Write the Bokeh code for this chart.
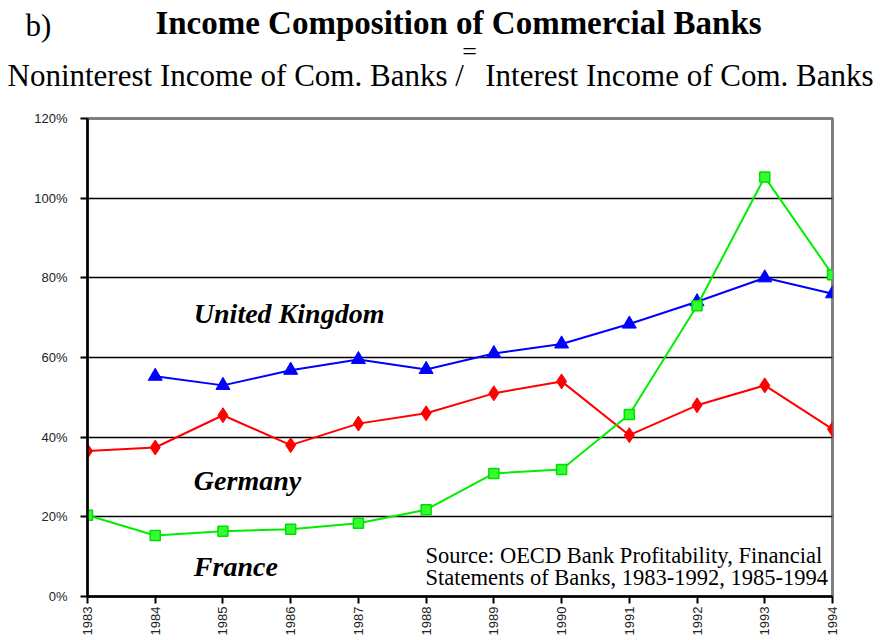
from bokeh.plotting import figure
from bokeh.models import Label, FixedTicker, Range1d
from bokeh.embed import file_html
from bokeh.resources import INLINE

years = [1983, 1984, 1985, 1986, 1987, 1988, 1989, 1990, 1991, 1992, 1993, 1994]
uk_years = [1984, 1985, 1986, 1987, 1988, 1989, 1990, 1991, 1992, 1993, 1994]
uk = [55.3, 53.0, 56.8, 59.5, 57.0, 61.0, 63.4, 68.4, 74.0, 80.0, 76.0]
germany = [36.5, 37.4, 45.5, 38.0, 43.4, 46.0, 51.0, 54.0, 40.5, 48.0, 53.0, 42.0]
france = [20.4, 15.3, 16.4, 16.9, 18.4, 21.8, 30.9, 31.9, 45.7, 73.0, 105.3, 80.8]
y_ticks = [0, 20, 40, 60, 80, 100, 120]
y_tick_labels = ["0%", "20%", "40%", "60%", "80%", "100%", "120%"]

SERIF = "Liberation Serif"
SANS = "Liberation Sans"
W = 882
HEAD_H = 100

# ---------- header (titles) ----------
head = figure(width=W, height=HEAD_H, x_range=Range1d(0, W), y_range=Range1d(HEAD_H, 0),
              output_backend="svg", toolbar_location=None,
              x_axis_location=None, y_axis_location=None,
              min_border=0, min_border_left=0, min_border_right=0,
              min_border_top=0, min_border_bottom=0,
              background_fill_color="white", border_fill_color="white")
head.outline_line_color = None
head.grid.visible = False


def hlab(x, y, text, size, style="normal", align="left"):
    head.add_layout(Label(x=x, y=y, text=text, text_font=SERIF, text_font_size=size,
                          text_font_style=style, text_align=align,
                          text_baseline="alphabetic", text_color="black"))


hlab(25, 25, "b)", "31px")
hlab(458, 22, "Income Composition of Commercial Banks", "33px", "bold", "center")
hlab(469, 51, "=", "26px", "normal", "center")
hlab(7, 75, "Noninterest Income of Com. Banks /", "31px", "normal", "left")
hlab(873, 75, "Interest Income of Com. Banks", "31px", "normal", "right")

# ---------- main chart ----------
p = figure(frame_width=745, frame_height=478, x_range=(1983, 1994), y_range=(0, 120),
           output_backend="svg", toolbar_location=None,
           min_border_left=87, min_border_right=50, min_border_top=118 - HEAD_H,
           min_border_bottom=38,
           background_fill_color="white", border_fill_color="white")

p.outline_line_color = "#808080"
p.outline_line_width = 3

p.xgrid.visible = False
p.ygrid.ticker = FixedTicker(ticks=[t for t in y_ticks if 0 < t < 120])
p.ygrid.grid_line_color = "black"
p.ygrid.grid_line_width = 1.5

p.xaxis.ticker = FixedTicker(ticks=years, minor_ticks=[])
p.yaxis.ticker = FixedTicker(ticks=y_ticks, minor_ticks=[])
p.yaxis.major_label_overrides = {t: l for t, l in zip(y_ticks, y_tick_labels)}
p.xaxis.major_label_orientation = 3.14159265 / 2

for ax in (p.xaxis, p.yaxis):
    ax.axis_line_color = "black"
    ax.axis_line_width = 2.5
    ax.major_tick_line_color = "black"
    ax.major_tick_line_width = 2
    ax.major_tick_out = 7
    ax.major_tick_in = 0
    ax.minor_tick_out = 0
    ax.minor_tick_in = 0
    ax.major_label_text_font = SANS
    ax.major_label_text_font_size = "13px"
    ax.major_label_text_color = "#222222"
p.xaxis.major_label_standoff = 3
p.yaxis.major_label_standoff = 13

# series
p.line(uk_years, uk, line_color="#0000FF", line_width=2)
p.scatter(uk_years, uk, marker="triangle", size=14, fill_color="#0000FF", line_color="#0000FF")
p.line(years, germany, line_color="#FF0000", line_width=2)
p.scatter(years, germany, marker="diamond", size=15, fill_color="#FF0000", line_color="#FF0000")
p.line(years, france, line_color="#00EE00", line_width=2)
p.scatter(years, france, marker="square", size=10, fill_color="#33FF33", line_color="#00DD00",
          line_width=1.5)


def lab(x, y, text, size, style="normal"):
    p.add_layout(Label(x=x, y=y, text=text, text_font=SERIF, text_font_size=size,
                       text_font_style=style, text_align="left", text_baseline="alphabetic",
                       text_color="black"))


lab(1984.57, 71.0, "United Kingdom", "28px", "bold italic")
lab(1984.57, 29.1, "Germany", "28px", "bold italic")
lab(1984.57, 7.5, "France", "28px", "bold italic")

lab(1987.991, 10.3, "Source: OECD Bank Profitability, Financial", "22.5px")
lab(1987.991, 4.8, "Statements of Banks, 1983-1992, 1985-1994", "22.5px")

open("out.html", "w").write(file_html([head, p], INLINE))
